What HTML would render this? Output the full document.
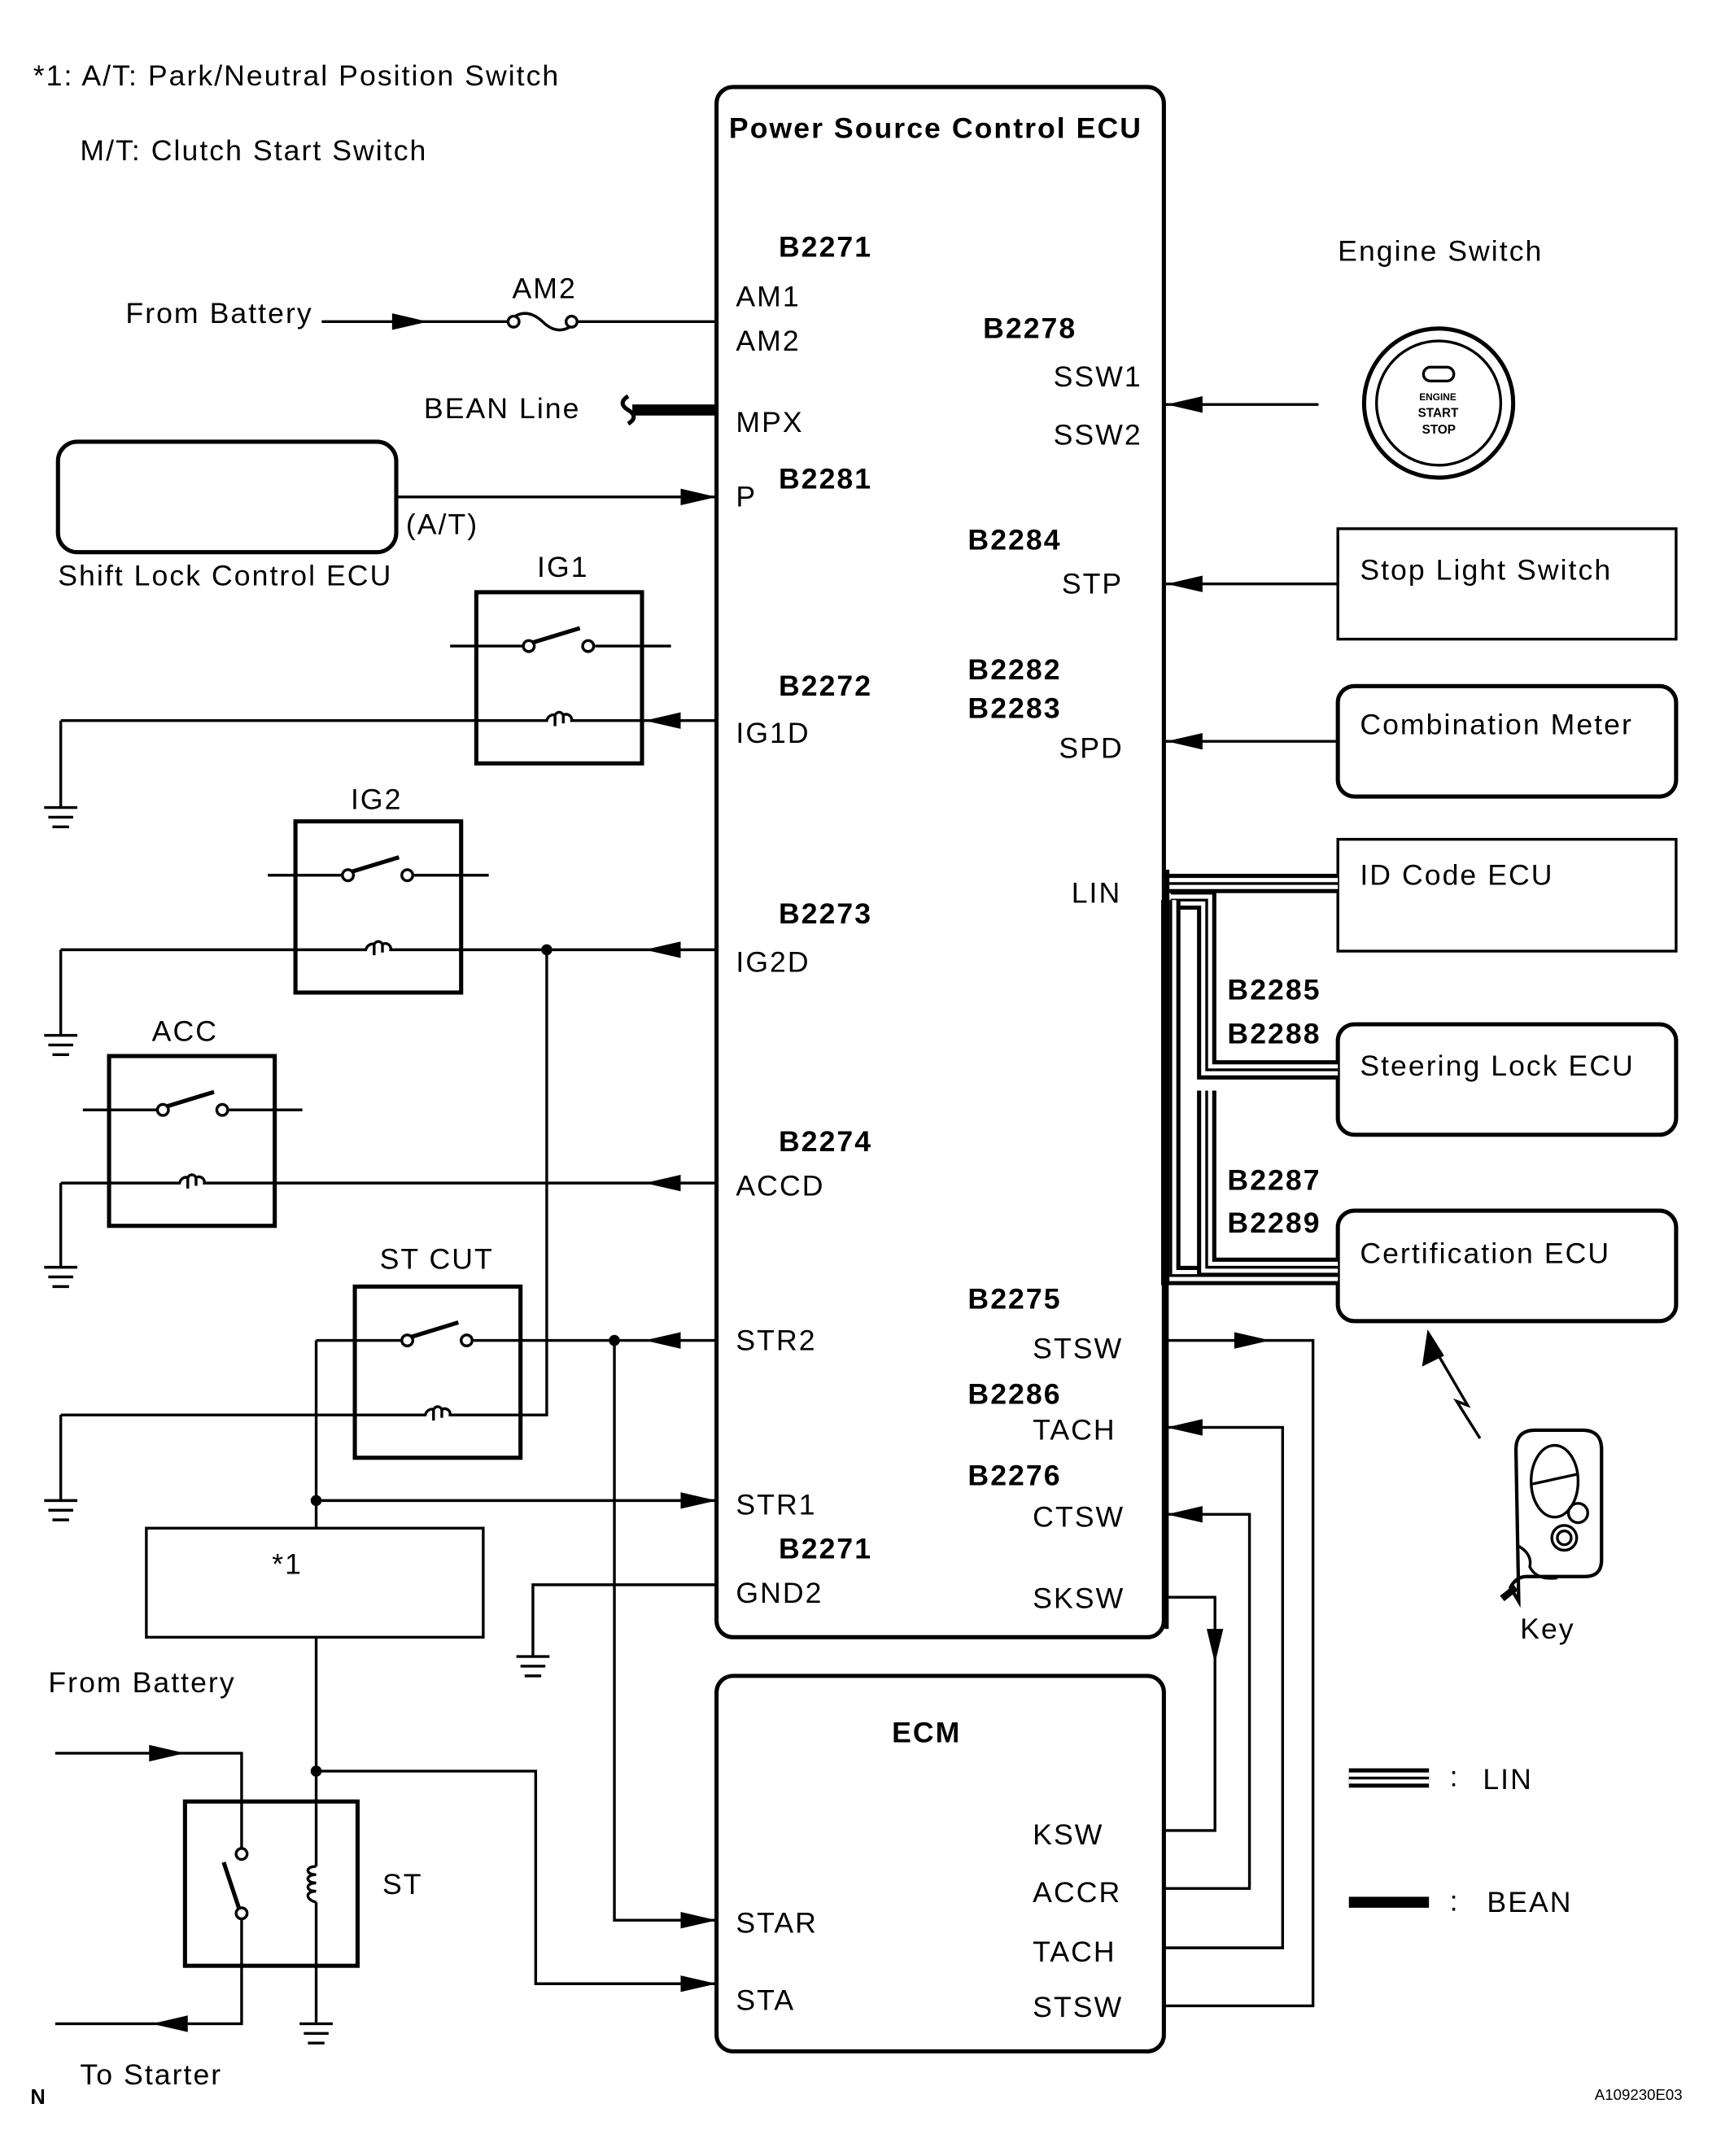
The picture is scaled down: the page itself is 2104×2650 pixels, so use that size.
<!DOCTYPE html>
<html><head><meta charset="utf-8"><style>
html,body{margin:0;padding:0;background:#fff;}
svg{display:block;}
text{font-family:"Liberation Sans",Arial,sans-serif;font-size:21px;fill:#000;letter-spacing:1.2px;}
.b{font-weight:bold;}
</style></head><body>
<svg width="2104" height="2650" viewBox="0 0 1240 1561.8" preserveAspectRatio="none" xmlns="http://www.w3.org/2000/svg">
<rect x="0" y="0" width="1240" height="1562" fill="#fff"/>
<g fill="none" stroke="#000" stroke-width="2">
<rect x="519" y="63" width="324" height="1123" rx="12" stroke-width="3"/>
<rect x="519" y="1214" width="324" height="272" rx="12" stroke-width="3"/>
<rect x="42" y="320" width="245" height="80" rx="14" stroke-width="3"/>
<rect x="106" y="1107" width="244" height="79"/>
<rect x="969" y="383" width="245" height="80"/>
<rect x="969" y="497" width="245" height="80" rx="12" stroke-width="3"/>
<rect x="969" y="608" width="245" height="81"/>
<rect x="969" y="742" width="245" height="80" rx="12" stroke-width="3"/>
<rect x="969" y="877" width="245" height="80" rx="12" stroke-width="3"/>

<path d="M233 233 H368 M418 233 H519"/>
<path d="M368 233 q12 -12 25 0 q12 12 25 0" />
<circle cx="372" cy="233" r="4" fill="#fff"/><circle cx="414" cy="233" r="4" fill="#fff"/>
<path d="M458 297 H519" stroke-width="8"/>
<path d="M455 287 q-8 5 0 10 q8 5 0 10" stroke-width="3"/>
<path d="M287 360 H519"/>

<rect x="345" y="429" width="120" height="124" stroke-width="3"/>
<path d="M326 468 H379 M431 468 H486"/>
<path d="M384 466 L420 455" stroke-width="3"/>
<circle cx="383" cy="468" r="4" fill="#fff"/><circle cx="426" cy="468" r="4" fill="#fff"/>
<path d="M44 522 H396 a5 6 0 0 1 6 -4 v8 m0 -8 a4 6 0 0 1 6 0 v6 m0 -6 a4 4 0 0 1 6 4 H519"/>
<path d="M44 522 V585"/>
<rect x="214" y="595" width="120" height="124" stroke-width="3"/>
<path d="M194 634 H248 M300 634 H354"/>
<path d="M253 632 L289 621" stroke-width="3"/>
<circle cx="252" cy="634" r="4" fill="#fff"/><circle cx="295" cy="634" r="4" fill="#fff"/>
<path d="M44 688 H265 a5 6 0 0 1 6 -4 v8 m0 -8 a4 6 0 0 1 6 0 v6 m0 -6 a4 4 0 0 1 6 4 H519"/>
<path d="M44 688 V750"/>
<path d="M396 688 V1025 H377"/>
<rect x="79" y="765" width="120" height="123" stroke-width="3"/>
<path d="M60 804 H114 M166 804 H219"/>
<path d="M119 802 L155 791" stroke-width="3"/>
<circle cx="118" cy="804" r="4" fill="#fff"/><circle cx="161" cy="804" r="4" fill="#fff"/>
<path d="M44 857 H130 a5 6 0 0 1 6 -4 v8 m0 -8 a4 6 0 0 1 6 0 v6 m0 -6 a4 4 0 0 1 6 4 H519"/>
<path d="M44 857 V918"/>
<rect x="257" y="932" width="120" height="124" stroke-width="3"/>
<path d="M229 971 H291 M343 971 H519"/>
<path d="M296 969 L332 958" stroke-width="3"/>
<circle cx="295" cy="971" r="4" fill="#fff"/><circle cx="338" cy="971" r="4" fill="#fff"/>
<path d="M44 1025 H308 a5 6 0 0 1 6 -4 v8 m0 -8 a4 6 0 0 1 6 0 v6 m0 -6 a4 4 0 0 1 6 4 H377"/>
<path d="M44 1025 V1087"/>
<path d="M229 971 V1107 M229 1087 H519"/>
<path d="M445 971 V1391 H519"/>
<path d="M519 1148 H386 V1200"/>
<rect x="134" y="1305" width="125" height="119" stroke-width="3"/>
<path d="M229 1186 V1352 M229 1378 V1466"/>
<path d="M229 1352 c-8 0 -8 6 0 6 c-8 0 -8 6 0 6 c-8 0 -8 6 0 6 c-8 0 -8 6 0 8" />
<path d="M229 1283 H388 V1437 H519"/>
<path d="M40 1270 H175 V1339 M175 1390 V1466 H40"/>
<path d="M174 1385 L162 1349" stroke-width="3"/>
<circle cx="175" cy="1343" r="4" fill="#fff"/><circle cx="175" cy="1386" r="4" fill="#fff"/>

<path d="M843 293 H955"/>
<path d="M843 423 H969"/>
<path d="M843 537 H969"/>
<path d="M843 971 H951 V1453 H843"/>
<path d="M843 1034 H929 V1411 H843"/>
<path d="M843 1097 H905 V1368 H843"/>
<path d="M843 1157 H880 V1326 H843"/>

<g stroke-width="2">
<path d="M32 585 H56 M35 592 H53 M38 599 H50"/>
<path d="M32 750 H56 M35 757 H53 M38 764 H50"/>
<path d="M32 918 H56 M35 925 H53 M38 932 H50"/>
<path d="M32 1087 H56 M35 1094 H53 M38 1101 H50"/>
<path d="M374 1200 H398 M377 1207 H395 M380 1214 H392"/>
<path d="M217 1466 H241 M220 1473 H238 M223 1480 H235"/>
</g>

<g>
<path d="M843 640 H969" stroke-width="14"/>
<path d="M843 640 H969" stroke="#fff" stroke-width="8"/>
<path d="M843 640 H969" stroke-width="2"/>
<path d="M848 652 H874 V775 H969" stroke-width="14"/>
<path d="M848 652 H874 V775 H969" stroke="#fff" stroke-width="8"/>
<path d="M848 652 H874 V775 H969" stroke-width="2"/>
<path d="M848 652 V924 H969" stroke-width="14" />
<path d="M848 652 V924 H969" stroke="#fff" stroke-width="8"/>
<path d="M848 652 V924 H969" stroke-width="2"/>
<path d="M874 790 V918 H969" stroke-width="14"/>
<path d="M874 790 V918 H969" stroke="#fff" stroke-width="8"/>
<path d="M874 790 V918 H969" stroke-width="2"/>
<rect x="843" y="630" width="4" height="300" fill="#000" stroke="none"/>
</g>
<path d="M845 630 V1180" stroke-width="3"/>

<path d="M977 1288 H1035" stroke-width="14"/>
<path d="M977 1288 H1035" stroke="#fff" stroke-width="8"/>
<path d="M977 1288 H1035" stroke-width="2"/>
<path d="M977 1378 H1035" stroke-width="8"/>

<circle cx="1042" cy="292" r="54" stroke-width="3"/>
<circle cx="1042" cy="292" r="45" stroke-width="2"/>
<rect x="1031" y="266" width="22" height="10" rx="5"/>

<path d="M1072 1042 L1055 1015 L1063 1018 L1042 982" stroke-width="2"/>
<path d="M1100 1160 L1098 1050 q0 -14 14 -14 h34 q14 0 14 14 v80 q0 12 -12 12 h-42 q-8 0 -12 8 z" stroke-width="2.5"/>
<ellipse cx="1126" cy="1073" rx="17" ry="26"/>
<path d="M1110 1075 L1142 1068"/>
<circle cx="1143" cy="1096" r="7"/><circle cx="1133" cy="1114" r="9"/><circle cx="1133" cy="1114" r="5"/>
<path d="M1100 1120 q10 6 8 15 q5 10 20 8" />
<path d="M1098 1150 L1088 1158" stroke-width="5"/>
</g>

<g fill="#000">
<polygon points="310,233 284,227 284,239"/>
<polygon points="519,360 493,354 493,366"/>
<polygon points="467,522 493,516 493,528"/>
<polygon points="467,688 493,682 493,694"/>
<polygon points="467,857 493,851 493,863"/>
<polygon points="467,971 493,965 493,977"/>
<polygon points="519,1087 493,1081 493,1093"/>
<polygon points="519,1391 493,1385 493,1397"/>
<polygon points="519,1437 493,1431 493,1443"/>
<polygon points="134,1270 108,1264 108,1276"/>
<polygon points="110,1466 136,1460 136,1472"/>
<polygon points="845,293 871,287 871,299"/>
<polygon points="845,423 871,417 871,429"/>
<polygon points="845,537 871,531 871,543"/>
<polygon points="920,971 894,965 894,977"/>
<polygon points="845,1034 871,1028 871,1040"/>
<polygon points="845,1097 871,1091 871,1103"/>
<polygon points="880,1205 874,1180 886,1180"/>
<polygon points="1034,963 1030,990 1046,982"/>
<circle cx="229" cy="1087" r="4"/><circle cx="229" cy="1283" r="4"/>
<circle cx="396" cy="688" r="4"/><circle cx="445" cy="971" r="4"/>
</g>

<text x="24" y="62">*1: A/T: Park/Neutral Position Switch</text>
<text x="58" y="116">M/T: Clutch Start Switch</text>
<text x="528" y="100" class="b">Power Source Control ECU</text>
<text x="91" y="234">From Battery</text>
<text x="371" y="216">AM2</text>
<text x="307" y="303">BEAN Line</text>
<text x="294" y="387">(A/T)</text>
<text x="42" y="424">Shift Lock Control ECU</text>
<text x="389" y="418">IG1</text>
<text x="254" y="586">IG2</text>
<text x="110" y="754">ACC</text>
<text x="275" y="919">ST CUT</text>
<text x="197" y="1140">*1</text>
<text x="35" y="1226">From Battery</text>
<text x="277" y="1372">ST</text>
<text x="58" y="1510">To Starter</text>
<text x="22" y="1524" class="b" style="font-size:15px;letter-spacing:0">N</text>
<text x="1155" y="1521" style="font-size:11px;letter-spacing:0">A109230E03</text>

<text x="533" y="222">AM1</text>
<text x="533" y="254">AM2</text>
<text x="533" y="313">MPX</text>
<text x="533" y="367">P</text>
<text x="533" y="538">IG1D</text>
<text x="533" y="704">IG2D</text>
<text x="533" y="866">ACCD</text>
<text x="533" y="978">STR2</text>
<text x="533" y="1097">STR1</text>
<text x="533" y="1161">GND2</text>
<text x="564" y="186" class="b">B2271</text>
<text x="564" y="354" class="b">B2281</text>
<text x="564" y="504" class="b">B2272</text>
<text x="564" y="669" class="b">B2273</text>
<text x="564" y="834" class="b">B2274</text>
<text x="564" y="1129" class="b">B2271</text>

<text x="712" y="245" class="b">B2278</text>
<text x="763" y="280">SSW1</text>
<text x="763" y="322">SSW2</text>
<text x="701" y="398" class="b">B2284</text>
<text x="769" y="430">STP</text>
<text x="701" y="492" class="b">B2282</text>
<text x="701" y="520" class="b">B2283</text>
<text x="767" y="549">SPD</text>
<text x="776" y="654">LIN</text>
<text x="701" y="948" class="b">B2275</text>
<text x="748" y="984">STSW</text>
<text x="701" y="1017" class="b">B2286</text>
<text x="748" y="1043">TACH</text>
<text x="701" y="1076" class="b">B2276</text>
<text x="748" y="1106">CTSW</text>
<text x="748" y="1165">SKSW</text>

<text x="646" y="1262" class="b">ECM</text>
<text x="748" y="1336">KSW</text>
<text x="748" y="1378">ACCR</text>
<text x="748" y="1421">TACH</text>
<text x="748" y="1461">STSW</text>
<text x="533" y="1400">STAR</text>
<text x="533" y="1456">STA</text>

<text x="969" y="189">Engine Switch</text>
<text x="1028" y="290" class="b" style="font-size:7px;letter-spacing:0">ENGINE</text>
<text x="1027" y="302" class="b" style="font-size:9px;letter-spacing:0">START</text>
<text x="1030" y="314" class="b" style="font-size:9px;letter-spacing:0">STOP</text>
<text x="985" y="420">Stop Light Switch</text>
<text x="985" y="532">Combination Meter</text>
<text x="985" y="641">ID Code ECU</text>
<text x="889" y="724" class="b">B2285</text>
<text x="889" y="756" class="b">B2288</text>
<text x="985" y="779">Steering Lock ECU</text>
<text x="889" y="862" class="b">B2287</text>
<text x="889" y="893" class="b">B2289</text>
<text x="985" y="915">Certification ECU</text>
<text x="1101" y="1187">Key</text>
<text x="1050" y="1294">:</text>
<text x="1074" y="1296">LIN</text>
<text x="1050" y="1384">:</text>
<text x="1077" y="1385">BEAN</text>
</svg>
</body></html>
